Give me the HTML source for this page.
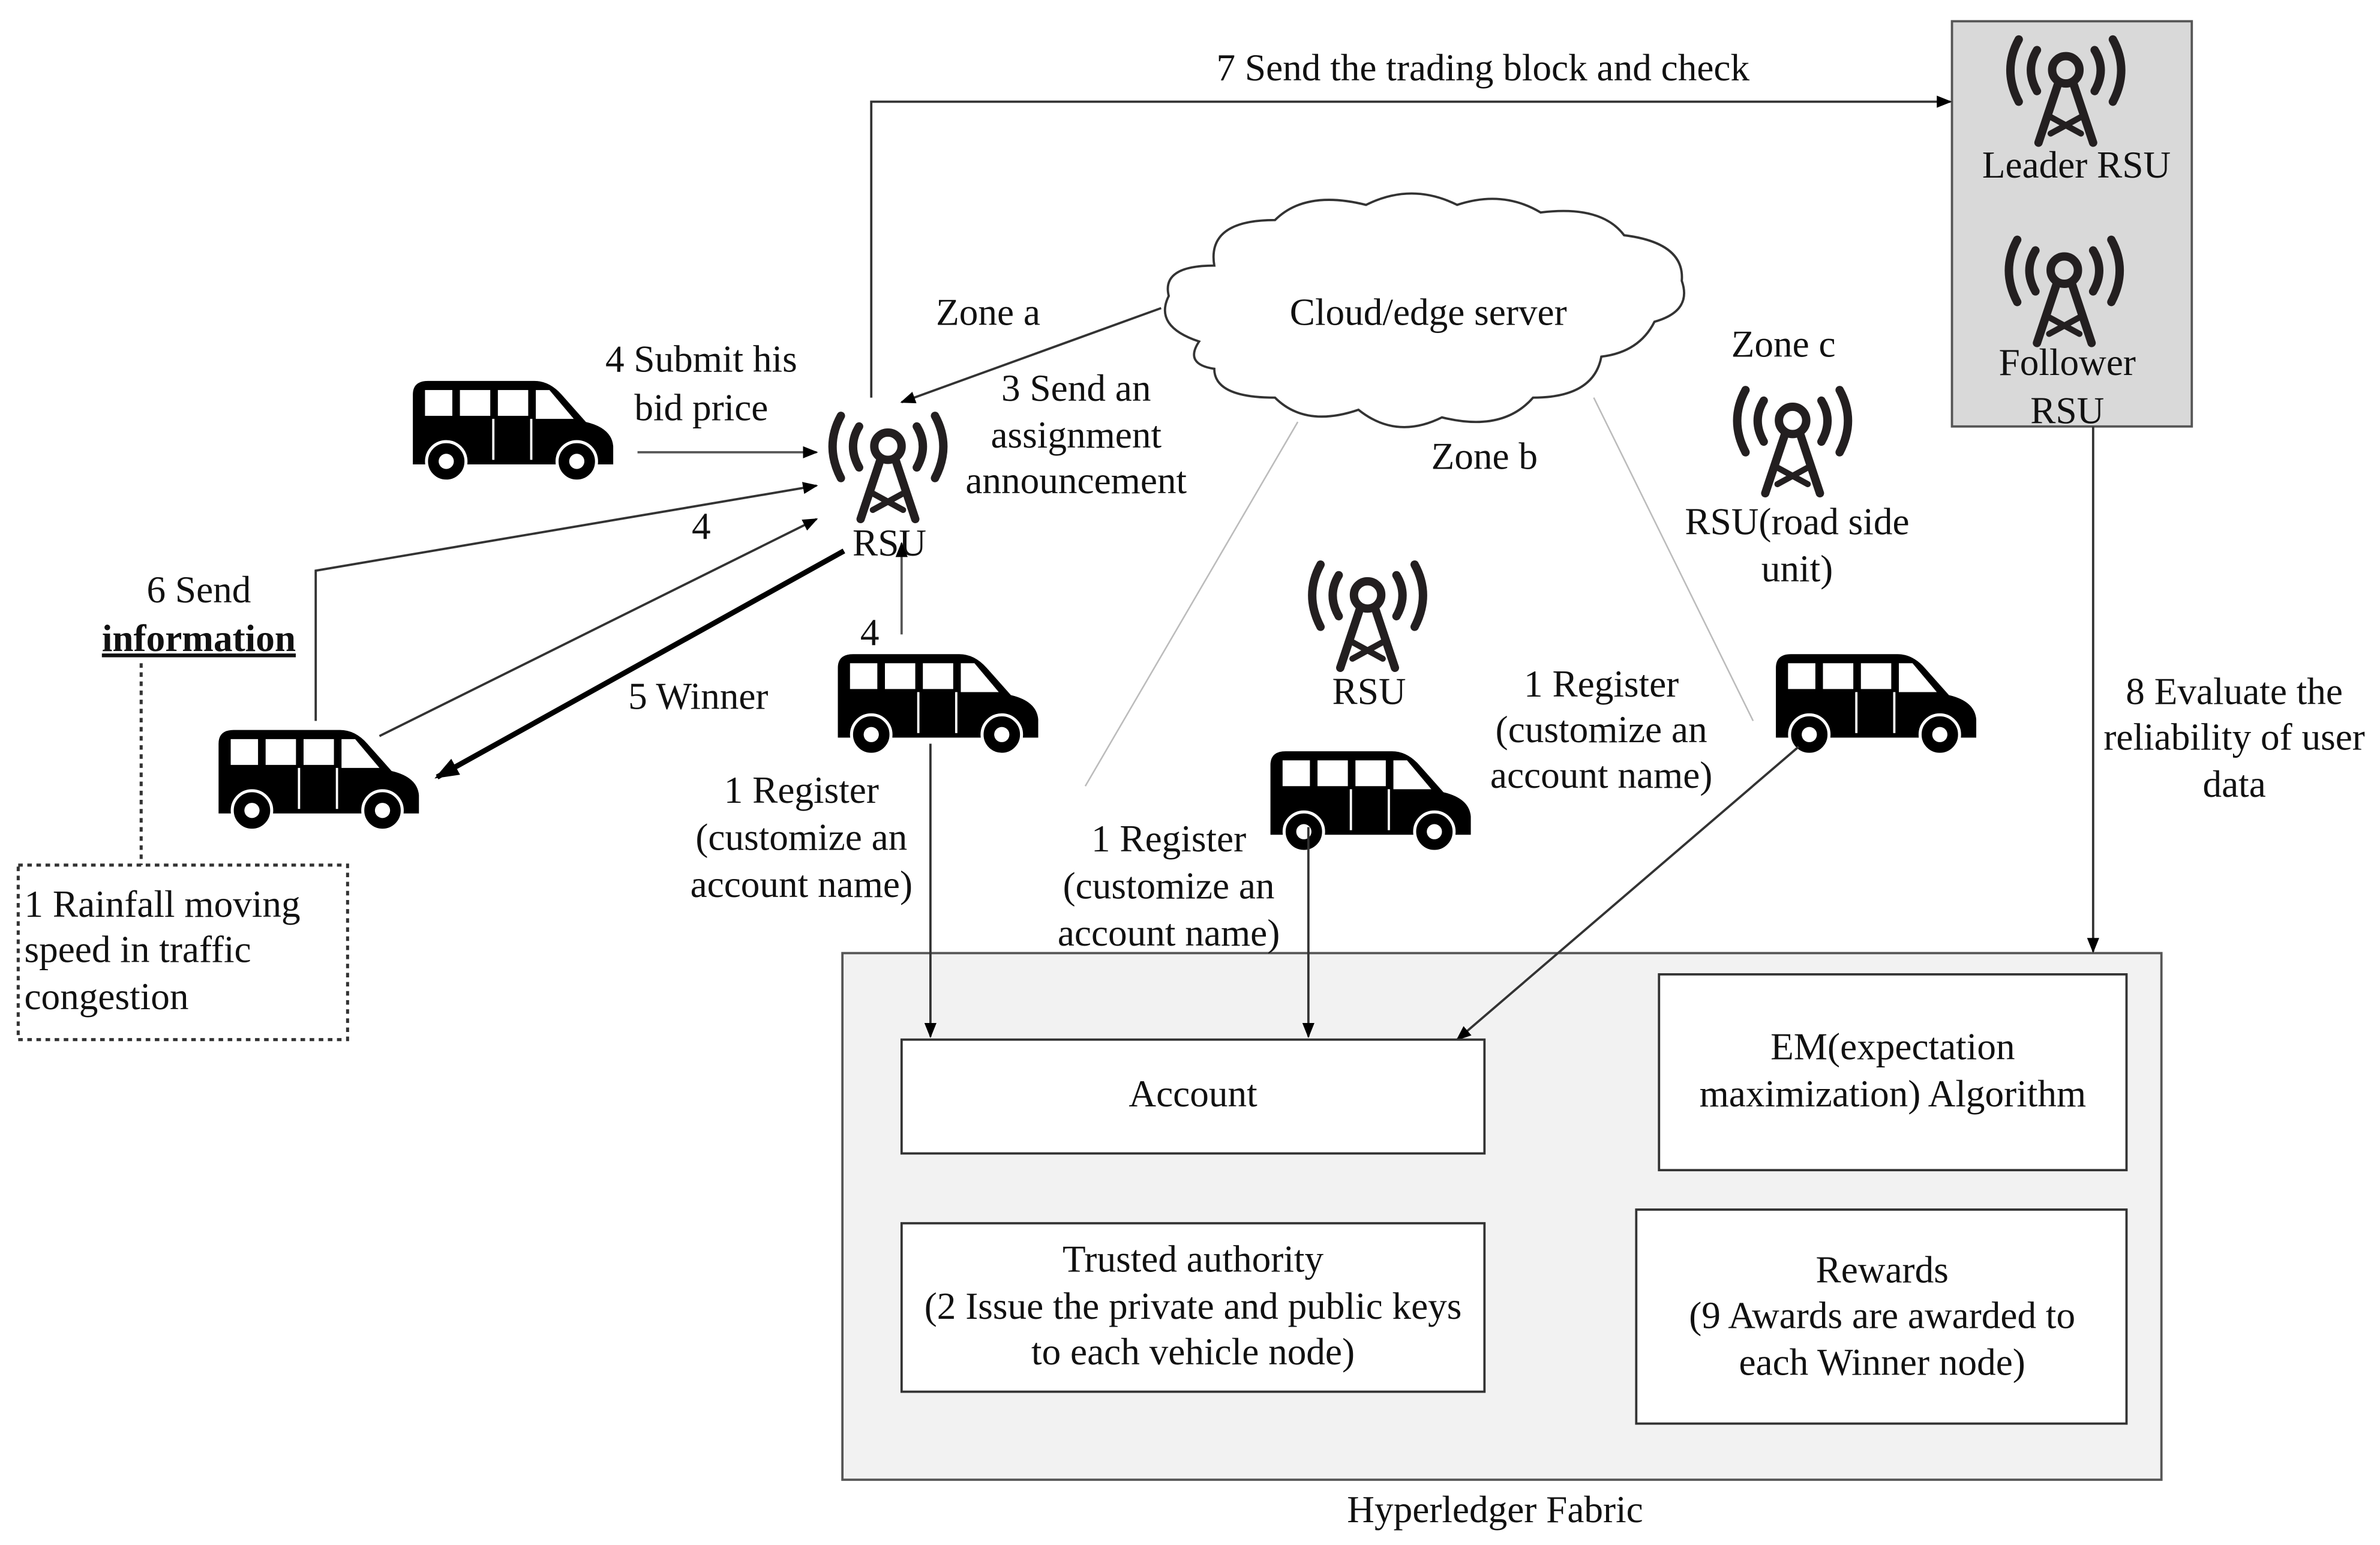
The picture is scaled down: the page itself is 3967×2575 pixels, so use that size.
<!DOCTYPE html>
<html><head><meta charset="utf-8">
<style>
html,body{margin:0;padding:0;background:#fff;}
svg{display:block;}
svg text{font-family:"Liberation Serif","Times New Roman",serif;font-size:25px;fill:#111;}
</style></head>
<body>
<svg width="3967" height="2575" viewBox="0 0 1568 1018" xmlns="http://www.w3.org/2000/svg" preserveAspectRatio="none" font-family="Liberation Serif, serif" font-size="25">
<defs>
<marker id="ah" markerWidth="10" markerHeight="8" refX="9" refY="4" orient="auto" markerUnits="userSpaceOnUse">
<path d="M0,0 L10,4 L0,8 Z" fill="#000"/></marker>
<marker id="ahb" markerWidth="16" markerHeight="12" refX="14" refY="6" orient="auto" markerUnits="userSpaceOnUse">
<path d="M0,0 L16,6 L0,12 Z" fill="#000"/></marker>
<symbol id="car" viewBox="0 0 135 68" overflow="visible">
<path d="M2,58 L2,12 Q2,3 12,3 L82,3 Q92,3 100,12 L116,30 Q133,34 134,46 L134,58 Z" fill="#000"/>
<rect x="10" y="9" width="18" height="17" fill="#fff"/>
<rect x="33" y="9" width="20" height="17" fill="#fff"/>
<rect x="58" y="9" width="20" height="17" fill="#fff"/>
<path d="M83,9 L92,9 L108,28 L83,28 Z" fill="#fff"/>
<line x1="55" y1="28" x2="55" y2="55" stroke="#fff" stroke-width="1.5"/>
<line x1="80" y1="28" x2="80" y2="55" stroke="#fff" stroke-width="1.5"/>
<circle cx="24" cy="56" r="13" fill="#000" stroke="#fff" stroke-width="2"/>
<circle cx="24" cy="56" r="5" fill="#fff"/>
<circle cx="110" cy="56" r="13" fill="#000" stroke="#fff" stroke-width="2"/>
<circle cx="110" cy="56" r="5" fill="#fff"/>
</symbol>
<symbol id="ant" viewBox="-40 -30 80 82" overflow="visible">
<g fill="none" stroke="#231f20" stroke-width="5.5" stroke-linecap="round">
<circle cx="0" cy="0" r="9"/>
<path d="M-19,-13 Q-27,0 -19,14"/>
<path d="M19,-13 Q27,0 19,14"/>
<path d="M-31,-20 Q-42,0 -31,21"/>
<path d="M31,-20 Q42,0 31,21"/>
<path d="M-5,9 L-18,48 M5,9 L18,48"/>
<path d="M-12,30 L10,42 M12,30 L-10,42" stroke-width="4"/>
</g>
</symbol>
</defs>

<rect x="555" y="628" width="869" height="347" fill="#f2f2f2" stroke="#555" stroke-width="1.5"/>

<rect x="1286" y="14" width="158" height="267" fill="#d9d9d9" stroke="#555" stroke-width="1.5"/>
<use href="#ant" x="1321" y="16" width="80" height="82"/>
<text x="1368" y="117" text-anchor="middle">Leader RSU</text>
<use href="#ant" x="1320" y="148" width="80" height="82"/>
<text x="1362" y="247" text-anchor="middle">Follower</text>
<text x="1362" y="279" text-anchor="middle">RSU</text>

<polyline points="574,262 574,67 1285,67" fill="none" stroke="#333" stroke-width="1.5" marker-end="url(#ah)"/>
<text x="977" y="53" text-anchor="middle">7 Send the trading block and check</text>

<path d="M790,225 Q760,215 770,195 Q765,175 800,175 Q795,145 840,145 Q860,125 900,135 Q930,120 960,135 Q990,125 1015,140 Q1055,135 1070,155 Q1110,160 1108,185 Q1115,205 1090,212 Q1080,232 1055,235 Q1050,262 1010,262 Q990,285 950,275 Q920,290 895,270 Q860,282 840,262 Q800,262 800,243 Q780,240 790,225 Z" fill="#fff" stroke="#333" stroke-width="1.5"/>
<text x="941" y="214" text-anchor="middle">Cloud/edge server</text>
<text x="651" y="214" text-anchor="middle">Zone a</text>
<text x="1175" y="235" text-anchor="middle">Zone c</text>
<text x="978" y="309" text-anchor="middle">Zone b</text>

<line x1="765" y1="203" x2="594" y2="265" stroke="#333" stroke-width="1.5" marker-end="url(#ah)"/>
<text x="709" y="264" text-anchor="middle">3 Send an</text>
<text x="709" y="295" text-anchor="middle">assignment</text>
<text x="709" y="325" text-anchor="middle">announcement</text>

<use href="#ant" x="545" y="264" width="80" height="82"/>
<text x="586" y="366" text-anchor="middle">RSU</text>

<use href="#car" x="270" y="248" width="135" height="68"/>
<text x="462" y="245" text-anchor="middle">4 Submit his</text>
<text x="462" y="277" text-anchor="middle">bid price</text>
<line x1="420" y1="298" x2="538" y2="298" stroke="#555" stroke-width="1.5" marker-end="url(#ah)"/>

<use href="#car" x="142" y="478" width="135" height="68"/>
<polyline points="208,475 208,376 538,320" fill="none" stroke="#333" stroke-width="1.5" marker-end="url(#ah)"/>
<text x="462" y="355" text-anchor="middle">4</text>
<line x1="250" y1="485" x2="538" y2="342" stroke="#333" stroke-width="1.5" marker-end="url(#ah)"/>
<line x1="556" y1="363" x2="288" y2="512" stroke="#000" stroke-width="3.5" marker-end="url(#ahb)"/>
<text x="460" y="467" text-anchor="middle">5 Winner</text>
<text x="131" y="397" text-anchor="middle">6 Send</text>
<text x="131" y="429" text-anchor="middle" font-weight="bold" text-decoration="underline">information</text>
<line x1="93" y1="437" x2="93" y2="570" stroke="#333" stroke-width="2" stroke-dasharray="3,3"/>
<rect x="12" y="570" width="217" height="115" fill="none" stroke="#333" stroke-width="2" stroke-dasharray="3,3"/>
<text x="16" y="604">1 Rainfall moving</text>
<text x="16" y="634">speed in traffic</text>
<text x="16" y="665">congestion</text>

<use href="#car" x="550" y="428" width="135" height="68"/>
<line x1="594" y1="418" x2="594" y2="358" stroke="#555" stroke-width="1.5" marker-end="url(#ah)"/>
<text x="573" y="425" text-anchor="middle">4</text>
<line x1="613" y1="490" x2="613" y2="683" stroke="#333" stroke-width="1.5" marker-end="url(#ah)"/>
<text x="528" y="529" text-anchor="middle">1 Register</text>
<text x="528" y="560" text-anchor="middle">(customize an</text>
<text x="528" y="591" text-anchor="middle">account name)</text>

<line x1="855" y1="278" x2="715" y2="518" stroke="#bbb" stroke-width="1"/>
<line x1="1050" y1="262" x2="1155" y2="475" stroke="#bbb" stroke-width="1"/>

<use href="#ant" x="861" y="362" width="80" height="82"/>
<text x="902" y="464" text-anchor="middle">RSU</text>
<use href="#car" x="835" y="492" width="135" height="68"/>
<line x1="862" y1="545" x2="862" y2="683" stroke="#333" stroke-width="1.5" marker-end="url(#ah)"/>
<text x="770" y="561" text-anchor="middle">1 Register</text>
<text x="770" y="592" text-anchor="middle">(customize an</text>
<text x="770" y="623" text-anchor="middle">account name)</text>
<text x="1055" y="459" text-anchor="middle">1 Register</text>
<text x="1055" y="489" text-anchor="middle">(customize an</text>
<text x="1055" y="519" text-anchor="middle">account name)</text>

<use href="#ant" x="1141" y="247" width="80" height="82"/>
<text x="1184" y="352" text-anchor="middle">RSU(road side</text>
<text x="1184" y="383" text-anchor="middle">unit)</text>
<use href="#car" x="1168" y="428" width="135" height="68"/>
<line x1="1185" y1="492" x2="960" y2="685" stroke="#333" stroke-width="1.5" marker-end="url(#ah)"/>

<line x1="1379" y1="281" x2="1379" y2="627" stroke="#333" stroke-width="1.5" marker-end="url(#ah)"/>
<text x="1472" y="464" text-anchor="middle">8 Evaluate the</text>
<text x="1472" y="494" text-anchor="middle">reliability of user</text>
<text x="1472" y="525" text-anchor="middle">data</text>

<text x="985" y="1003" text-anchor="middle">Hyperledger Fabric</text>
<rect x="594" y="685" width="384" height="75" fill="#fff" stroke="#333" stroke-width="1.5"/>
<text x="786" y="729" text-anchor="middle">Account</text>
<rect x="1093" y="642" width="308" height="129" fill="#fff" stroke="#333" stroke-width="1.5"/>
<text x="1247" y="698" text-anchor="middle">EM(expectation</text>
<text x="1247" y="729" text-anchor="middle">maximization) Algorithm</text>
<rect x="594" y="806" width="384" height="111" fill="#fff" stroke="#333" stroke-width="1.5"/>
<text x="786" y="838" text-anchor="middle">Trusted authority</text>
<text x="786" y="869" text-anchor="middle">(2 Issue the private and public keys</text>
<text x="786" y="899" text-anchor="middle">to each vehicle node)</text>
<rect x="1078" y="797" width="323" height="141" fill="#fff" stroke="#333" stroke-width="1.5"/>
<text x="1240" y="845" text-anchor="middle">Rewards</text>
<text x="1240" y="875" text-anchor="middle">(9 Awards are awarded to</text>
<text x="1240" y="906" text-anchor="middle">each Winner node)</text>
</svg>
</body></html>
